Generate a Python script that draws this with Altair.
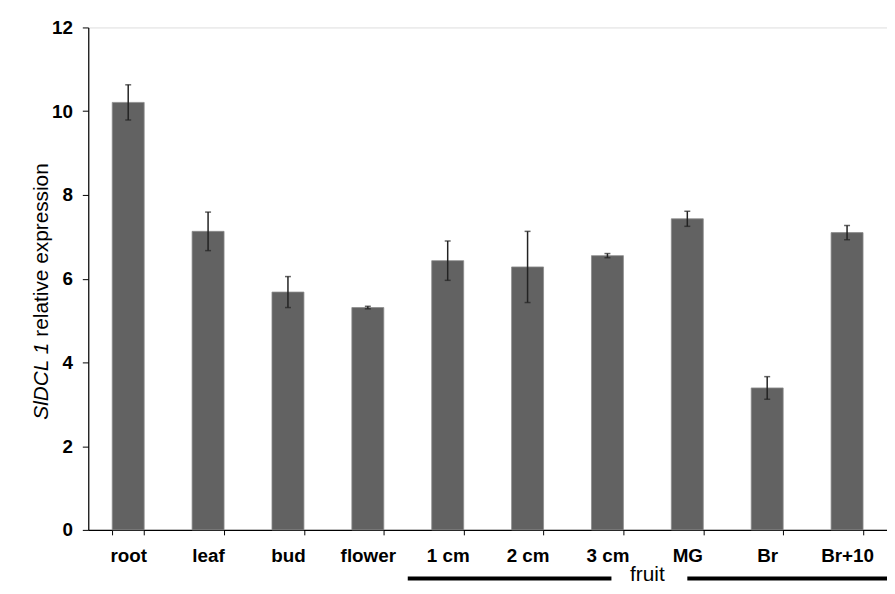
import altair as alt
import pandas as pd

categories = ["root", "leaf", "bud", "flower", "1 cm", "2 cm", "3 cm", "MG", "Br", "Br+10"]
values = [10.21, 7.13, 5.68, 5.31, 6.43, 6.28, 6.55, 7.43, 3.39, 7.10]
errors = [0.42, 0.46, 0.37, 0.03, 0.47, 0.85, 0.05, 0.18, 0.27, 0.17]
y_ticks = [0, 2, 4, 6, 8, 10, 12]

title_italic = "SlDCL 1"
title_rest = "relative expression"

fruit_label = "fruit"
fruit_seg_start = [4.0, 7.5]
fruit_seg_end = [6.55, 10.0]
fruit_text_pos = 7.0

FONT = "Liberation Sans"
W, H = 806, 507

df = pd.DataFrame({
    "cat": categories,
    "val": values,
    "lo": [v - e for v, e in zip(values, errors)],
    "hi": [v + e for v, e in zip(values, errors)],
})

xscale = alt.Scale(domain=categories, paddingInner=0.6, paddingOuter=0.3)
yscale = alt.Scale(domain=[0, 12], nice=False)

x_enc = alt.X(
    "cat:N", scale=xscale, sort=categories,
    axis=alt.Axis(title=None, labelAngle=0, tickBand="extent", domainColor="black",
                  tickColor="black", tickSize=5, labelFontSize=19, labelFontWeight="bold",
                  labelColor="black", labelFont=FONT, labelPadding=12, domainWidth=1.2),
)

bars = alt.Chart(df).mark_bar(color="#626262", stroke="#8c8c8c", strokeWidth=0.8).encode(
    x=x_enc,
    y=alt.Y("val:Q", scale=yscale,
            axis=alt.Axis(title=None, values=y_ticks, grid=False, domainColor="black",
                          tickColor="black", tickSize=6, labelFontSize=19,
                          labelFontWeight="bold", labelColor="black", labelFont=FONT,
                          labelPadding=10, domainWidth=1.2)),
)

err_rule = alt.Chart(df).mark_rule(color="#222222", strokeWidth=1.5).encode(
    x=alt.X("cat:N", scale=xscale, sort=categories),
    y=alt.Y("lo:Q", scale=yscale),
    y2="hi:Q",
)
err_top = alt.Chart(df).mark_tick(color="#222222", thickness=1.5, size=6).encode(
    x=alt.X("cat:N", scale=xscale, sort=categories),
    y=alt.Y("hi:Q", scale=yscale),
)
err_bot = alt.Chart(df).mark_tick(color="#222222", thickness=1.5, size=6).encode(
    x=alt.X("cat:N", scale=xscale, sort=categories),
    y=alt.Y("lo:Q", scale=yscale),
)

main = alt.layer(bars, err_rule, err_top, err_bot)

fscale = alt.Scale(domain=[0, 10], nice=False, zero=False)
fdf = pd.DataFrame({"s": fruit_seg_start, "e": fruit_seg_end})
fruit_lines = alt.Chart(fdf).mark_rule(color="black", strokeWidth=4).encode(
    x=alt.X("s:Q", scale=fscale, axis=None),
    x2="e:Q",
    y=alt.value(H + 49),
)
fruit_text = alt.Chart(pd.DataFrame({"t": [fruit_label], "p": [fruit_text_pos]})).mark_text(
    font=FONT, fontSize=21, color="black", baseline="alphabetic", align="center"
).encode(
    x=alt.X("p:Q", scale=fscale, axis=None),
    y=alt.value(H + 52),
    text="t:N",
)

tdf1 = pd.DataFrame({"t": [title_italic]})
tdf2 = pd.DataFrame({"t": [title_rest]})
title1 = alt.Chart(tdf1).mark_text(
    font=FONT, fontSize=21, fontStyle="italic", angle=270, align="right",
    baseline="middle", color="black"
).encode(x=alt.value(-47), y=alt.value(318), text="t:N")
title2 = alt.Chart(tdf2).mark_text(
    font=FONT, fontSize=21, angle=270, align="left", baseline="middle", color="black"
).encode(x=alt.value(-47), y=alt.value(312), text="t:N")

fruit = alt.layer(fruit_lines, fruit_text)

chart = alt.layer(main, fruit, title1, title2).resolve_scale(x="independent").properties(
    width=W, height=H,
    autosize=alt.AutoSizeParams(type="none"),
    padding={"left": 81, "top": 17, "right": 0, "bottom": 54},
).configure_view(stroke=None).configure(background="white")

chart.save("out.html", embed_options={"renderer": "svg", "actions": False})
